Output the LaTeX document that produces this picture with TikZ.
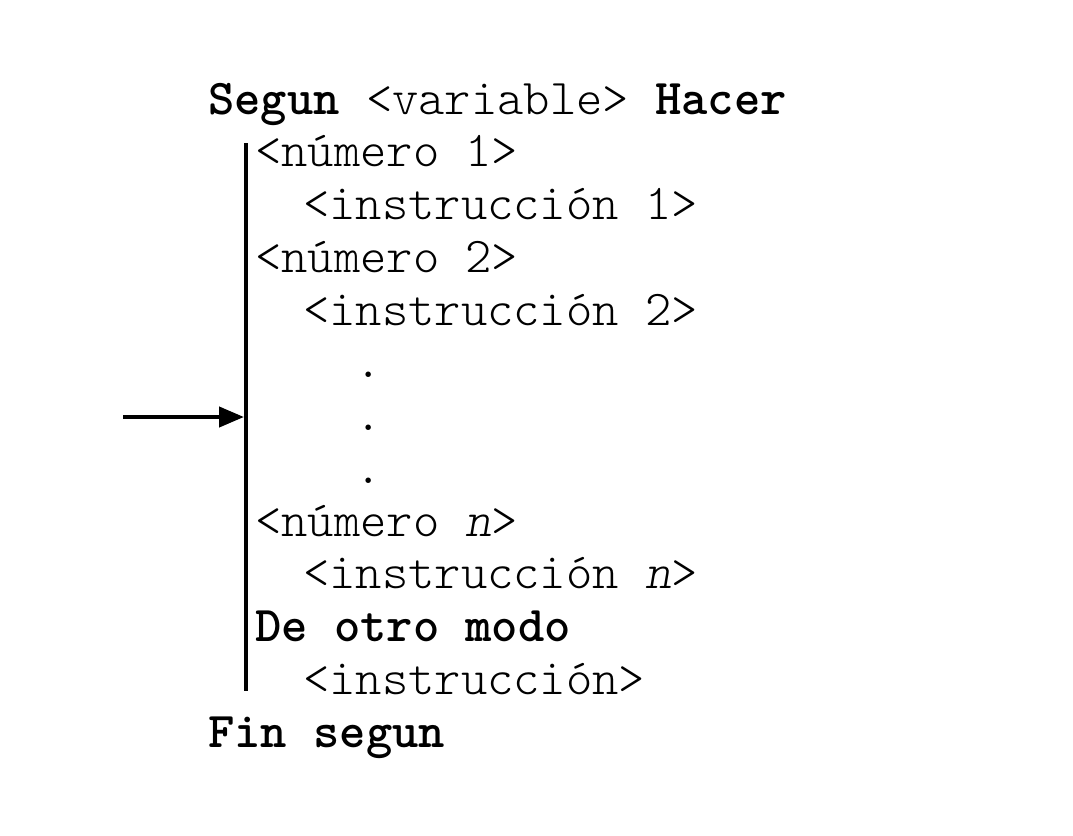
\documentclass[tikz,border=0pt]{standalone}
\usepackage{fontspec}
\usetikzlibrary{arrows.meta}
\begin{document}
\begin{tikzpicture}[x=1pt,y=-1pt,
  code/.style={anchor=base west,inner sep=0pt,font=\fontsize{50.1}{52.7}\selectfont\ttfamily\fontseries{l}\selectfont},
  rule/.style={line width=4.4pt}]
\useasboundingbox (0,0) rectangle (1073,835);
\def\L#1{114+52.75*#1}
\node[code] (l0)  at (208,{\L{0}})  {\textbf{Segun} <variable> \textbf{Hacer}};
\node[code] (l1)  at (255,{\L{1}})  {<número 1>};
\node[code] (l2)  at (303,{\L{2}})  {<instrucción 1>};
\node[code] (l3)  at (255,{\L{3}})  {<número 2>};
\node[code] (l4)  at (303,{\L{4}})  {<instrucción 2>};
\node[code] (d1)  at (355,{\L{5}})  {.};
\node[code] (d2)  at (355,{\L{6}})  {.};
\node[code] (d3)  at (355,{\L{7}})  {.};
\node[code] (l8)  at (255,{\L{8}})  {<número \textit{n}>};
\node[code] (l9)  at (303,{\L{9}})  {<instrucción \textit{n}>};
\node[code] (l10) at (255,{\L{10}}) {\textbf{De otro modo}};
\node[code] (l11) at (303,{\L{11}}) {<instrucción>};
\node[code] (l12) at (208,{\L{12}}) {\textbf{Fin segun}};
\coordinate (top) at (246,143);
\coordinate (bot) at (246,691);
\coordinate (from) at (123,417);
\coordinate (to) at (244,417);
\draw[rule] (top) -- (bot);
\draw[line width=4.2pt,-{Triangle[length=25pt,width=20pt]}] (from) -- (to);
\end{tikzpicture}
\end{document}
